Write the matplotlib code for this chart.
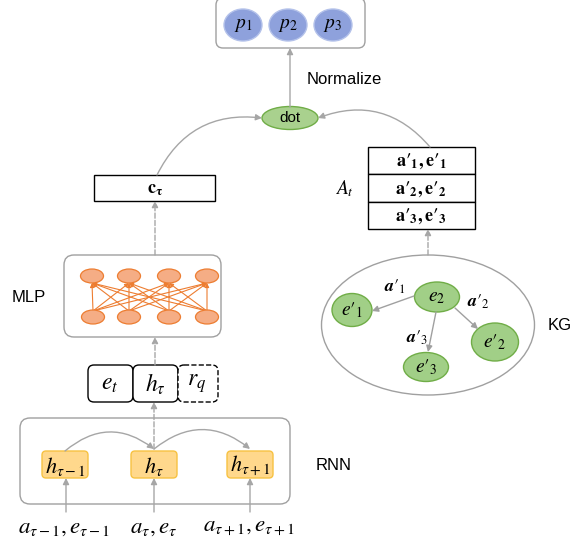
import matplotlib
matplotlib.use("Agg")
import matplotlib.pyplot as plt
from matplotlib.patches import FancyBboxPatch, Ellipse, FancyArrowPatch, Rectangle

plt.rcParams['font.family'] = ['Liberation Sans', 'DejaVu Sans']
plt.rcParams['mathtext.fontset'] = 'stix'

# ---- content ----
prob_labels = [r"$p_1$", r"$p_2$", r"$p_3$"]
table_rows = ["$\\mathbf{a\u2032_1,e\u2032_1}$", "$\\mathbf{a\u2032_2,e\u2032_2}$", "$\\mathbf{a\u2032_3,e\u2032_3}$"]
concat_labels = [r"$e_t$", r"$h_\tau$", r"$r_q$"]
rnn_labels = [r"$h_{\tau-1}$", r"$h_\tau$", r"$h_{\tau+1}$"]
input_labels = [r"$a_{\tau-1},e_{\tau-1}$", r"$a_\tau,e_\tau$", r"$a_{\tau+1},e_{\tau+1}$"]
kg_nodes = ["$e_2$", "$e\u2032_1$", "$e\u2032_2$", "$e\u2032_3$"]
kg_edges = ["$\\mathbfit{a}\u2032_1$", "$\\mathbfit{a}\u2032_2$", "$\\mathbfit{a}\u2032_3$"]
side_labels = ["Normalize", "MLP", "RNN", "KG"]

GRAY = "#a6a6a6"
BOXGRAY = "#a0a0a0"

fig = plt.figure(figsize=(5.84, 5.48), dpi=100)
ax = fig.add_axes([0, 0, 1, 1])
ax.set_xlim(0, 584)
ax.set_ylim(548, 0)
ax.axis('off')


def rbox(x0, y0, x1, y1, r=8, ec=BOXGRAY, fc='white', lw=1.0, ls='-', z=1):
    p = FancyBboxPatch((x0, y0), x1 - x0, y1 - y0,
                       boxstyle=f"round,pad=0,rounding_size={r}",
                       ec=ec, fc=fc, lw=lw, ls=ls, zorder=z)
    ax.add_patch(p)


def arrow(p0, p1, ls='-', rad=0.0, color=GRAY, ms=9, lw=1.0, z=3):
    a = FancyArrowPatch(p0, p1, arrowstyle='-|>', mutation_scale=ms,
                        connectionstyle=f"arc3,rad={rad}", color=color,
                        lw=lw, ls=ls, shrinkA=0, shrinkB=0, zorder=z)
    ax.add_patch(a)


# ---- output probabilities ----
rbox(216, -2, 365, 48, r=7)
for lab, cx in zip(prob_labels, [243, 288, 333]):
    ax.add_patch(Ellipse((cx, 25), 38, 32, fc="#8ea1dc", ec="#b4c2ea", lw=1, zorder=2))
    ax.text(cx, 26, lab, ha='center', va='center', fontsize=14, zorder=3)

arrow((290, 107), (290, 48))
ax.text(307, 80, side_labels[0], ha='left', va='center', fontsize=12)

# ---- dot ----
ax.add_patch(Ellipse((290, 118), 56, 23, fc="#a9d18e", ec="#70ad47", lw=1, zorder=2))
ax.text(290, 118, "dot", ha='center', va='center', fontsize=11, zorder=3)

arrow((157, 175), (262, 118), rad=-0.35)
arrow((430, 147), (318, 118), rad=0.35)

# ---- c_tau ----
ax.add_patch(Rectangle((94, 175), 121, 26, fc='white', ec='black', lw=1.0, zorder=2))
ax.text(155, 189, r"$\mathbf{c}_\mathbf{\tau}$", ha='center', va='center', fontsize=13, zorder=3)
arrow((155, 255), (155, 201), ls='--')

# ---- MLP ----
rbox(64, 255, 221, 337, r=10)
ax.text(12, 297, side_labels[1], ha='left', va='center', fontsize=12)
top_x = [92, 129, 169, 207]
bot_x = [93, 129, 169, 207]
ty, by = 276, 317
for bx in bot_x:
    for tx in top_x:
        arrow((bx, by - 6), (tx, ty + 7), color="#ed7d31", ms=6, lw=0.8, z=2)
for tx in top_x:
    ax.add_patch(Ellipse((tx, ty), 23, 14, fc="#f5ad85", ec="#ed7d31", lw=0.9, zorder=4))
for bx in bot_x:
    ax.add_patch(Ellipse((bx, by), 23, 14, fc="#f5ad85", ec="#ed7d31", lw=0.9, zorder=4))

arrow((155, 365), (155, 337), ls='--')

# ---- concat ----
rbox(88, 365, 133, 402, r=6, ec='black', z=2)
rbox(133, 365, 178, 402, r=6, ec='black', z=2)
rbox(178, 365, 218, 402, r=6, ec='black', ls='--', z=2)
for lab, cx in zip(concat_labels, [110, 155, 197]):
    ax.text(cx, 384, lab, ha='center', va='center', fontsize=17, zorder=3)

# ---- RNN ----
rbox(20, 418, 290, 504, r=10)
ax.text(316, 466, side_labels[2], ha='left', va='center', fontsize=12)
hx = [(42, 88), (131, 177), (227, 273)]
for lab, (x0, x1) in zip(rnn_labels, hx):
    rbox(x0, 451, x1, 478, r=4, ec="#f7c242", fc="#ffd88c", z=2)
    ax.text((x0 + x1) / 2, 466, lab, ha='center', va='center', fontsize=16, zorder=3)

arrow((65, 451), (154, 449), rad=-0.4)
arrow((154, 449), (250, 449), rad=-0.4)
arrow((154, 449), (154, 402), ls='--')

for cx in [66, 154, 250]:
    arrow((cx, 512), (cx, 478))
for lab, cx in zip(input_labels, [64, 154, 249]):
    ax.text(cx, 526, lab, ha='center', va='center', fontsize=16.5)

# ---- A_t table ----
rows_y = [147, 174, 202, 229]
for i, lab in enumerate(table_rows):
    ax.add_patch(Rectangle((368, rows_y[i]), 107, rows_y[i + 1] - rows_y[i],
                           fc='white', ec='black', lw=1.0, zorder=2))
    ax.text(421, (rows_y[i] + rows_y[i + 1]) / 2 + 1, lab, ha='center', va='center',
            fontsize=13, zorder=3)
ax.text(344, 189, r"$A_t$", ha='center', va='center', fontsize=14)

arrow((428, 255), (428, 229), ls='--')

# ---- KG ----
ax.add_patch(Ellipse((428, 325), 213, 140, fc='white', ec=BOXGRAY, lw=1.0, zorder=1))
ax.text(548, 326, side_labels[3], ha='left', va='center', fontsize=12)
node_pos = [(437, 297, 45, 30), (352, 310, 40, 33), (495, 342, 47, 38), (426, 367, 45, 29)]
for lab, (cx, cy, w, h) in zip(kg_nodes, node_pos):
    ax.add_patch(Ellipse((cx, cy), w, h, fc="#a1cf87", ec="#70ad47", lw=1, zorder=2))
    ax.text(cx, cy, lab, ha='center', va='center', fontsize=14, zorder=3)

arrow((414, 296), (372, 311), color="#a0a0a0")
arrow((455, 308), (478, 329), color="#a0a0a0")
arrow((436, 312), (428, 352), color="#a0a0a0")

for lab, (x, y) in zip(kg_edges, [(395, 287), (478, 302), (417, 338)]):
    ax.text(x, y, lab, ha='center', va='center', fontsize=13, zorder=3)

fig.savefig("out.png", dpi=100)
